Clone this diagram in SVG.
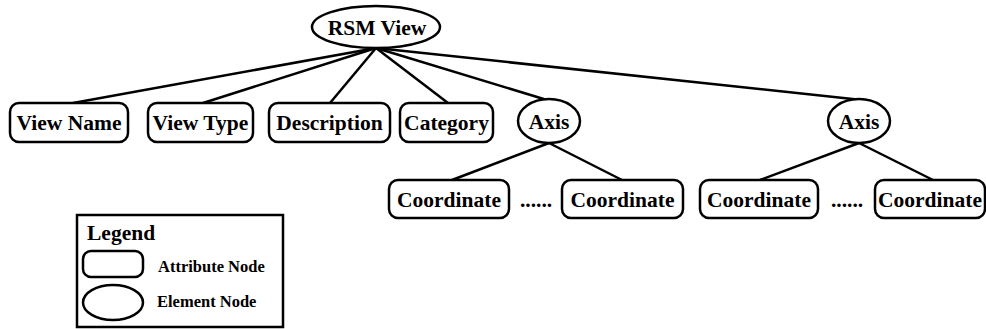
<svg xmlns="http://www.w3.org/2000/svg" width="986" height="329" viewBox="0 0 986 329">
  <style>
    .attr { fill: #fff; stroke: #000; stroke-width: 2.5; }
    .elem { fill: #fff; stroke: #000; stroke-width: 2.5; }
    .edge { stroke: #000; stroke-width: 2.5; fill: none; }
    .lbl { font-family: "Liberation Serif", "Times New Roman", serif; font-weight: bold; font-size: 21.5px; fill: #000; text-anchor: middle; }
    .small { font-family: "Liberation Serif", "Times New Roman", serif; font-weight: bold; font-size: 16.5px; fill: #000; }
  </style>
  <rect width="986" height="329" fill="#fff"/>

  <!-- tree edges -->
  <g id="connectors">
    <line class="edge" x1="376" y1="48" x2="73" y2="103"/>
    <line class="edge" x1="376" y1="48" x2="203" y2="103"/>
    <line class="edge" x1="376" y1="48" x2="330" y2="103"/>
    <line class="edge" x1="376" y1="48" x2="448" y2="103"/>
    <line class="edge" x1="376" y1="48" x2="547" y2="100"/>
    <line class="edge" x1="376" y1="48" x2="862" y2="100"/>
    <line class="edge" x1="549" y1="143" x2="452" y2="180"/>
    <line class="edge" x1="549" y1="143" x2="622" y2="180"/>
    <line class="edge" x1="859" y1="143" x2="760" y2="180"/>
    <line class="edge" x1="859" y1="143" x2="933" y2="180"/>
  </g>

  <g id="rsm-view">
    <ellipse class="elem" cx="376" cy="27" rx="64" ry="21"/>
    <text class="lbl" x="377" y="35">RSM View</text>
  </g>

  <g id="view-name">
    <rect class="attr" x="10" y="103" width="118" height="39" rx="9"/>
    <text class="lbl" x="69" y="130">View Name</text>
  </g>
  <g id="view-type">
    <rect class="attr" x="148" y="103" width="105" height="39" rx="9"/>
    <text class="lbl" x="200.5" y="130">View Type</text>
  </g>
  <g id="description">
    <rect class="attr" x="269" y="103" width="121" height="39" rx="9"/>
    <text class="lbl" x="329.5" y="130">Description</text>
  </g>
  <g id="category">
    <rect class="attr" x="400" y="103" width="93" height="39" rx="9"/>
    <text class="lbl" x="446.5" y="130">Category</text>
  </g>

  <g id="axis-1">
    <ellipse class="elem" cx="549" cy="121" rx="31" ry="22"/>
    <text class="lbl" x="549" y="129">Axis</text>
  </g>
  <g id="axis-2">
    <ellipse class="elem" cx="859" cy="121" rx="31" ry="22"/>
    <text class="lbl" x="859" y="129">Axis</text>
  </g>

  <g id="coordinate-1">
    <rect class="attr" x="389" y="180" width="120" height="38" rx="9"/>
    <text class="lbl" x="449" y="207">Coordinate</text>
  </g>
  <text class="lbl" x="536" y="207">......</text>
  <g id="coordinate-2">
    <rect class="attr" x="562" y="180" width="121" height="38" rx="9"/>
    <text class="lbl" x="622.5" y="207">Coordinate</text>
  </g>
  <g id="coordinate-3">
    <rect class="attr" x="700" y="180" width="118" height="38" rx="9"/>
    <text class="lbl" x="759" y="207">Coordinate</text>
  </g>
  <text class="lbl" x="847" y="207">......</text>
  <g id="coordinate-4">
    <rect class="attr" x="875" y="180" width="110" height="38" rx="9"/>
    <text class="lbl" x="930" y="207">Coordinate</text>
  </g>

  <!-- legend -->
  <g id="legend">
    <rect x="77" y="215" width="206" height="112" fill="#fff" stroke="#000" stroke-width="2.5"/>
    <text class="lbl" x="87" y="240" style="text-anchor:start">Legend</text>
    <rect class="attr" x="83" y="251" width="60" height="26" rx="8"/>
    <text class="small" x="158" y="272">Attribute Node</text>
    <ellipse class="elem" cx="113" cy="302.5" rx="30" ry="17.5"/>
    <text class="small" x="157" y="307">Element Node</text>
  </g>
</svg>
